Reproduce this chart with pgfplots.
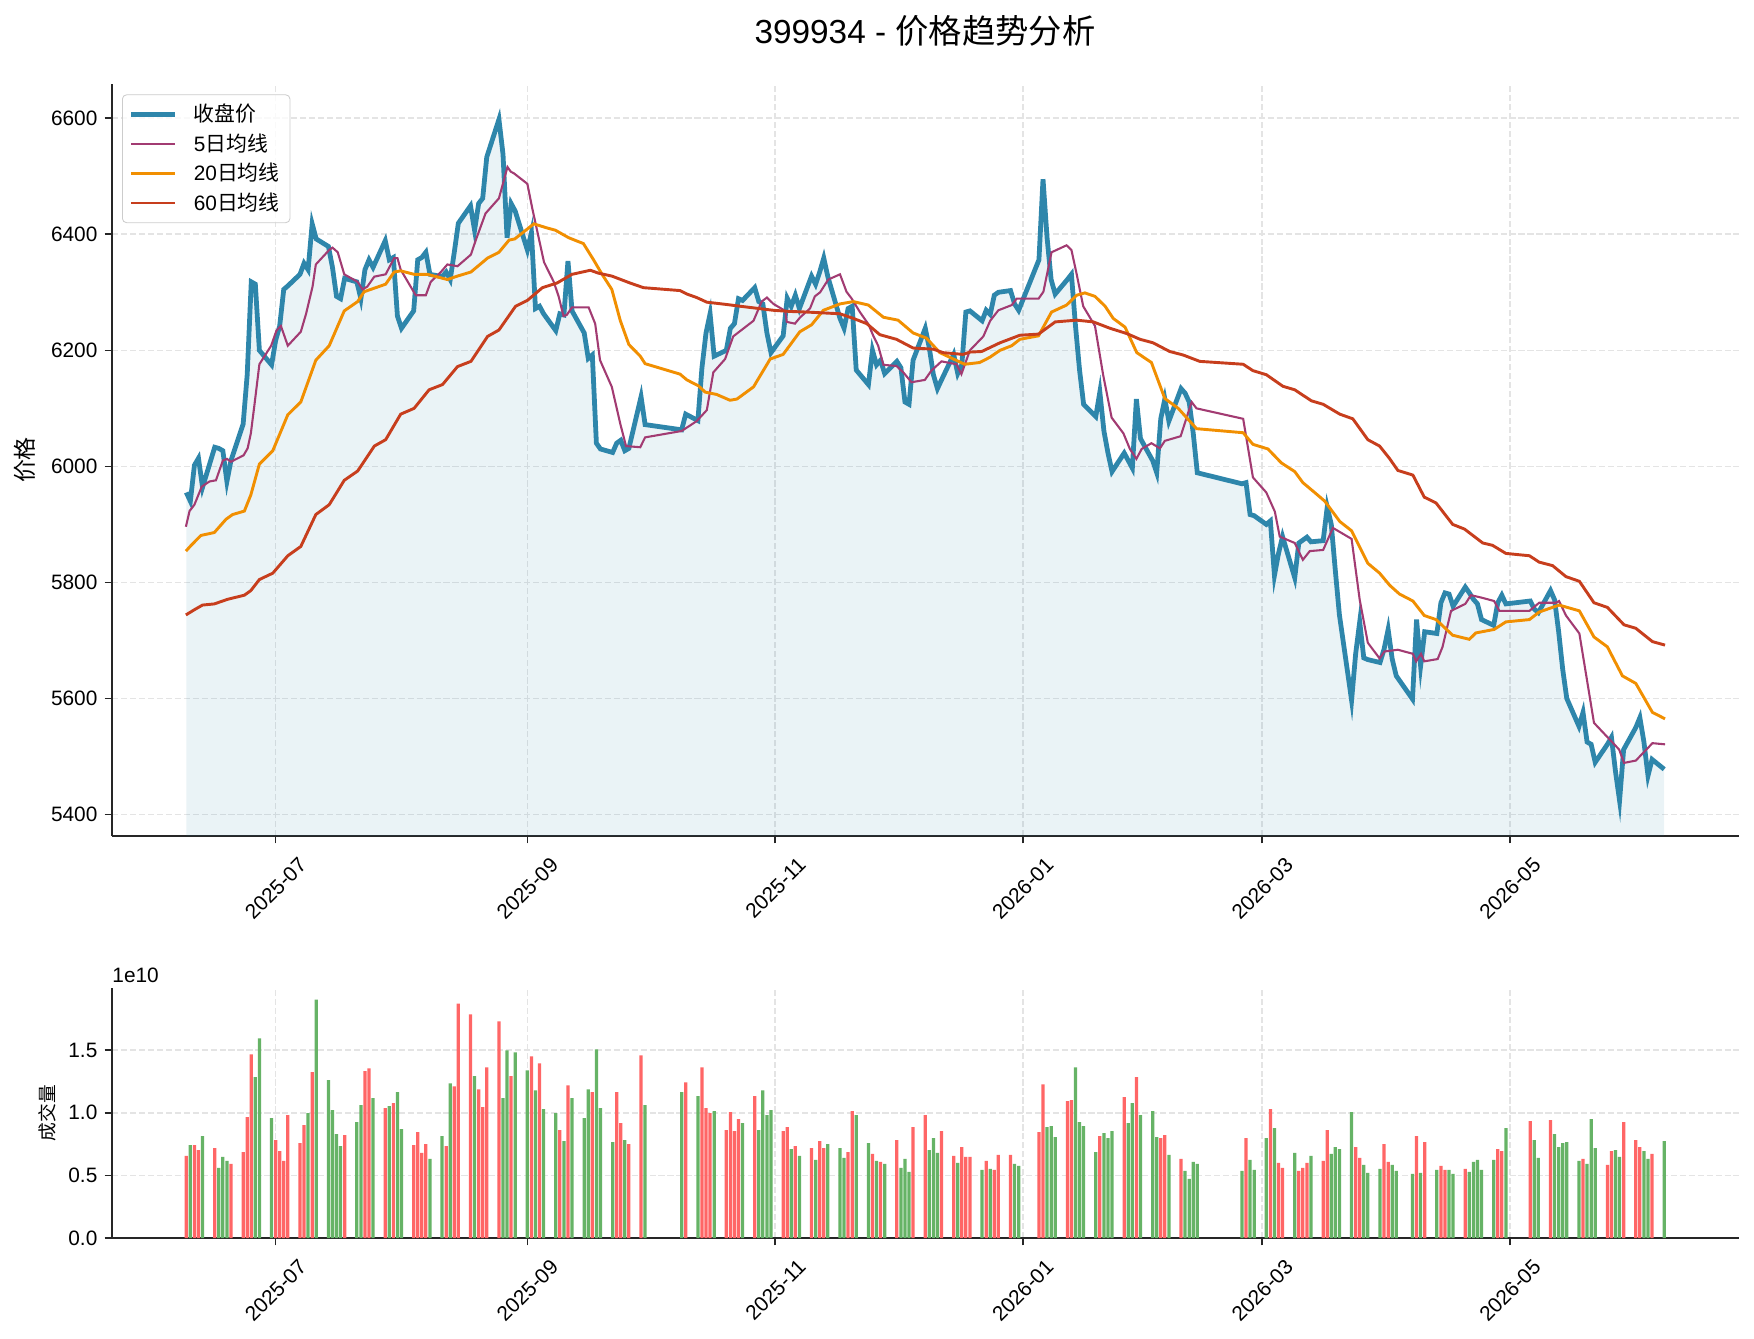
\documentclass[border=0pt]{standalone}
\usepackage{fontspec}
\setmainfont{Liberation Sans}
\newfontfamily\cjk{Noto Sans CJK SC}
\usepackage{pgfplots}
\usepackage{pgfplotstable}
\pgfplotsset{compat=1.18}
\definecolor{closec}{HTML}{2E86AB}
\definecolor{ma5c}{HTML}{A23B72}
\definecolor{ma20c}{HTML}{F18F01}
\definecolor{ma60c}{HTML}{C73E1D}
\definecolor{upc}{HTML}{FF6666}
\definecolor{downc}{HTML}{66B366}
\definecolor{gridc}{HTML}{E4E4E4}
\definecolor{spinec}{HTML}{262626}

\pgfplotstableread{
x y
-22 5955
-21 5940
-20 6002
-19 6014
-18 5964
-15 6033
-14 6031
-13 6027
-12 5974
-11 6010
-8 6073
-7 6158
-6 6318
-5 6314
-4 6200
-1 6175
0 6217
1 6242
2 6305
3 6311
6 6331
7 6350
8 6339
9 6418
10 6392
13 6379
14 6343
15 6293
16 6289
17 6324
20 6318
21 6289
22 6339
23 6356
24 6343
27 6389
28 6356
29 6360
30 6259
31 6238
34 6268
35 6356
36 6360
37 6369
38 6331
41 6327
42 6335
43 6322
44 6369
45 6419
48 6449
49 6407
50 6453
51 6462
52 6533
55 6598
56 6538
57 6394
58 6453
59 6440
62 6373
63 6403
64 6272
65 6276
66 6263
69 6234
70 6263
71 6261
72 6354
73 6268
76 6230
77 6186
78 6192
79 6040
80 6030
83 6024
84 6040
85 6045
86 6027
87 6031
90 6120
91 6072
100 6063
101 6090
104 6079
105 6170
106 6230
107 6263
108 6190
111 6200
112 6238
113 6246
114 6289
115 6286
118 6308
119 6284
120 6280
121 6230
122 6196
125 6225
126 6290
127 6276
128 6295
129 6272
132 6328
133 6314
134 6335
135 6359
136 6327
139 6255
140 6238
141 6272
142 6276
143 6166
146 6141
147 6200
148 6175
149 6183
150 6160
153 6181
154 6170
155 6111
156 6107
157 6183
160 6238
161 6204
162 6158
163 6134
164 6149
167 6193
168 6160
169 6175
170 6266
171 6268
174 6251
175 6269
176 6262
177 6295
178 6300
181 6303
182 6280
183 6269
188 6356
189 6495
190 6394
191 6322
192 6297
195 6322
196 6331
197 6242
198 6166
199 6107
202 6086
203 6128
204 6061
205 6023
206 5991
209 6023
210 6010
211 5997
212 6116
213 6048
216 6010
217 5989
218 6082
219 6116
220 6078
223 6134
224 6126
225 6111
226 6057
227 5989
238 5970
239 5972
240 5917
241 5915
244 5900
245 5906
246 5812
247 5850
248 5879
251 5808
252 5868
253 5873
254 5878
255 5870
258 5872
259 5930
260 5900
261 5820
262 5744
265 5597
266 5677
267 5732
268 5670
269 5667
272 5662
273 5685
274 5719
275 5668
276 5639
280 5599
281 5736
282 5656
283 5715
286 5712
287 5765
288 5782
289 5780
290 5759
293 5792
294 5782
295 5771
296 5763
297 5736
300 5726
301 5765
302 5778
303 5763
309 5768
310 5754
311 5748
314 5786
315 5770
316 5715
317 5650
318 5600
321 5552
322 5576
323 5525
324 5521
325 5490
328 5521
329 5533
330 5474
331 5424
332 5512
335 5550
336 5567
337 5525
338 5467
339 5495
342 5478
}\closetab

\pgfplotstableread{
x y
-22.1 5896
-21.2 5923
-20 5934
-18.2 5965
-16.3 5974
-14.7 5976
-13 6010
-12 6013
-11 6008
-7.9 6019
-6.9 6031
-6.1 6057
-5.2 6107
-4 6176
-1.1 6208
0.2 6234
1.3 6242
3 6208
6.2 6232
7.5 6263
9.1 6310
9.9 6348
13.2 6373
14 6377
15.3 6369
16.9 6331
20.2 6318
21.4 6305
22.6 6310
24.3 6327
27.1 6331
29.2 6359
30 6359
30.8 6339
34.5 6295
37 6295
38.2 6318
40.7 6335
42.3 6348
44.8 6345
48.1 6365
49.3 6390
51.7 6436
55 6462
57.1 6516
57.9 6508
58.7 6505
62 6487
63.2 6445
66.1 6352
68.5 6318
69.7 6293
70.9 6259
71.7 6261
73 6274
77.1 6274
78.7 6246
79.9 6183
82.8 6137
84.9 6073
86.3 6035
89.8 6033
91 6050
100 6061
103.7 6078
106.2 6097
107.8 6162
110.7 6185
112.7 6224
117.7 6251
119.7 6284
121 6291
122.6 6280
125.5 6268
125.9 6249
127.9 6246
129.2 6257
131.6 6272
132.8 6293
134.1 6300
136.1 6322
139 6331
140.6 6301
141.9 6289
143.9 6266
146 6245
147.2 6225
148.4 6208
149.7 6175
152.9 6173
154.6 6162
156.6 6145
159.9 6149
161.5 6165
164 6181
167.7 6176
168.9 6159
171 6200
174.3 6224
176 6251
178 6269
181.3 6278
182.5 6289
187.9 6289
189.1 6301
191.1 6369
194.8 6381
196 6373
197.3 6331
198.9 6276
201.8 6242
203.8 6158
205.9 6084
208.8 6057
210.4 6030
212 6013
213.3 6030
215.7 6040
217.8 6031
219 6044
222.9 6052
225.6 6111
226.8 6100
238.3 6082
240.7 5981
244 5955
246.1 5922
247.3 5879
251 5868
253 5839
254.7 5854
258 5856
260.4 5894
265 5875
267 5770
269 5696
271.9 5669
273.1 5681
276.4 5684
280.1 5677
280.9 5664
282.1 5677
282.9 5664
286.2 5668
287.4 5689
289.5 5751
293 5763
294.4 5778
296.9 5774
300.1 5768
301.4 5751
308.8 5751
311.2 5765
315.3 5765
316.1 5768
317.8 5743
321.1 5712
324.7 5558
330.9 5512
332.1 5489
335 5493
339.1 5523
342.2 5521
}\matab

\pgfplotstableread{
x y
-22.1 5854
-20.8 5864
-18.4 5881
-15.1 5886
-12.2 5909
-10.6 5917
-7.7 5923
-6.1 5951
-4 6004
-0.7 6027
3 6089
6.2 6111
9.9 6183
13.2 6208
16.9 6268
20.2 6284
21.8 6301
27.1 6314
29.2 6335
30.8 6337
34.1 6331
37.4 6331
42.3 6322
44.8 6328
48.1 6335
52.2 6359
55 6369
57.5 6390
58.9 6392
63.6 6418
66.8 6411
68.9 6407
72.2 6394
75.8 6384
78.3 6356
80.4 6331
82.8 6305
84.9 6251
87 6210
89.8 6190
91 6177
99.6 6159
101.3 6149
104.1 6139
105.8 6128
108.6 6124
111.9 6114
113.6 6116
117.7 6137
121.8 6185
125 6193
129.1 6232
132 6244
134.9 6269
139 6280
142.3 6284
146 6278
149.7 6257
153.3 6252
157 6230
160.3 6221
163.6 6196
169.7 6176
173.4 6179
175.9 6188
178.4 6200
181.3 6208
183.3 6219
187.9 6225
191.1 6266
194.8 6278
197.3 6295
199.3 6299
201.8 6293
204.3 6276
206.3 6255
209.2 6240
212.1 6196
215.7 6179
219 6117
222.3 6100
226.8 6065
238.3 6058
240.7 6038
244.4 6030
247.7 6006
251 5991
253 5972
255.9 5955
258.4 5940
262.1 5905
265 5889
269 5833
271.9 5816
274.4 5795
276.8 5780
280.1 5768
282.9 5743
285.8 5736
289.9 5709
294 5702
295.6 5713
300.1 5719
303 5732
308.8 5736
311.2 5749
316.1 5761
321.1 5751
324.7 5706
328 5689
331.7 5639
335 5626
339.1 5576
342.2 5565
}\mbtab

\pgfplotstableread{
x y
-22.1 5744
-20 5753
-18 5761
-15.1 5763
-11.8 5771
-7.7 5778
-6.1 5786
-4 5805
-0.7 5816
3 5846
6.2 5862
9.9 5917
13.2 5934
16.9 5976
20.2 5992
24.3 6035
27.1 6046
30.8 6090
34.1 6100
37.8 6132
41.1 6141
44.8 6172
48.1 6181
52.2 6224
55 6235
59.1 6276
62 6286
65.7 6308
69.3 6316
73 6331
77.5 6338
79.5 6333
82.8 6328
87.3 6316
90.6 6308
99.6 6303
101.3 6297
103.7 6291
106.2 6283
111.1 6279
114.4 6276
122.6 6269
126.7 6267
130.8 6266
139 6263
142.3 6255
145.6 6246
148.8 6227
152.9 6219
157 6204
162 6202
164.4 6196
169.3 6193
171 6197
173.9 6198
178.4 6213
183.3 6226
187.9 6228
192 6249
197.3 6252
201.4 6249
205.5 6238
209.6 6229
212.9 6219
216.1 6213
220.2 6198
223.5 6192
227.6 6181
238.3 6176
240.7 6165
244 6158
248.1 6138
251 6132
255.1 6113
258 6107
262.1 6090
265.3 6082
269 6046
271.9 6035
274.3 6014
276.4 5993
280.1 5985
282.9 5947
285.8 5937
289.9 5900
292.8 5892
297.3 5868
299.7 5864
303 5850
308.8 5846
311.2 5835
314.5 5829
317.8 5810
321.1 5802
324.7 5765
328 5757
332.1 5727
335 5721
339.1 5698
342.2 5692
}\mctab

\pgfplotstableread{
x y
-22 0.655
-20 0.742
-19 0.702
-15 0.718
-11 0.591
-8 0.686
-7 0.965
-6 1.466
0 0.782
1 0.694
2 0.615
3 0.981
6 0.758
7 0.901
9 1.323
17 0.822
22 1.331
23 1.354
27 1.036
29 1.076
34 0.742
35 0.845
36 0.679
37 0.750
42 0.734
44 1.211
45 1.871
48 1.784
50 1.187
51 1.044
52 1.362
55 1.728
58 1.291
63 1.450
65 1.394
70 0.861
72 1.219
78 1.164
84 1.164
85 0.917
87 0.750
90 1.458
101 1.243
105 1.362
106 1.036
107 0.997
111 0.861
112 1.005
113 0.853
114 0.949
118 1.132
125 0.853
126 0.885
128 0.734
132 0.718
134 0.774
135 0.718
141 0.686
142 1.012
147 0.671
149 0.607
153 0.782
157 0.885
160 0.981
164 0.853
167 0.655
169 0.726
170 0.647
171 0.647
175 0.615
177 0.543
178 0.663
181 0.663
188 0.845
189 1.227
195 1.092
196 1.100
203 0.814
209 1.124
212 1.283
218 0.798
219 0.822
223 0.631
239 0.798
245 1.028
247 0.599
248 0.559
252 0.535
253 0.559
254 0.599
258 0.615
259 0.861
266 0.726
267 0.639
273 0.750
274 0.607
281 0.814
283 0.766
287 0.575
288 0.543
293 0.551
301 0.710
302 0.694
309 0.933
314 0.941
322 0.631
328 0.583
329 0.694
332 0.925
335 0.782
336 0.726
339 0.671
}\uptab

\pgfplotstableread{
x y
-21 0.742
-18 0.814
-14 0.559
-13 0.647
-12 0.615
-5 1.283
-4 1.593
-1 0.957
8 0.997
10 1.903
13 1.259
14 1.020
15 0.830
16 0.734
20 0.925
21 1.060
24 1.116
28 1.052
30 1.164
31 0.869
38 0.631
41 0.814
43 1.235
49 1.291
56 1.116
57 1.497
59 1.482
62 1.338
64 1.179
66 1.028
69 0.997
71 0.774
73 1.116
76 0.957
77 1.187
79 1.505
80 1.036
83 0.766
86 0.782
91 1.060
100 1.164
104 1.132
108 1.012
115 0.917
119 0.861
120 1.179
121 0.981
122 1.020
127 0.710
129 0.655
133 0.623
136 0.750
139 0.718
140 0.639
143 0.981
146 0.758
148 0.615
150 0.591
154 0.559
155 0.631
156 0.527
161 0.702
162 0.798
163 0.679
168 0.599
174 0.543
176 0.551
182 0.591
183 0.575
190 0.885
191 0.893
192 0.806
197 1.362
198 0.925
199 0.893
202 0.686
204 0.838
205 0.798
206 0.853
210 0.917
211 1.076
213 0.981
216 1.012
217 0.806
220 0.663
224 0.535
225 0.472
226 0.607
227 0.591
238 0.535
240 0.623
241 0.543
244 0.798
246 0.877
251 0.679
255 0.655
260 0.671
261 0.726
262 0.710
265 1.005
268 0.583
269 0.519
272 0.551
275 0.583
276 0.535
280 0.512
282 0.519
286 0.543
289 0.543
290 0.512
294 0.527
295 0.607
296 0.623
297 0.543
300 0.623
303 0.877
310 0.782
311 0.639
315 0.830
316 0.726
317 0.758
318 0.766
321 0.615
323 0.591
324 0.949
325 0.718
330 0.702
331 0.647
337 0.694
338 0.631
342 0.774
}\downtab

\pgfplotsset{
  basestyle/.style={
    scale only axis, width=780.72pt,
    xmin=-40.3, xmax=360.3,
    axis x line*=bottom, axis y line*=left,
    axis line style={line width=0.9pt, spinec},
    tick align=outside, major tick length=3.5pt,
    tick style={line width=0.8pt, spinec},
    xtick={0,62,123,184,243,304},
    xticklabels={2025-07,2025-09,2025-11,2026-01,2026-03,2026-05},
    grid=major,
    major grid style={line width=0.8pt, gridc, dash pattern=on 3pt off 1.3pt},
    tick label style={font=\fontsize{10}{12}\selectfont},
    x tick label style={xshift=10.5pt, yshift=-6pt, rotate=45, anchor=north east, inner sep=0pt},
    /pgf/number format/assume math mode=true,
    /pgf/number format/set thousands separator={},
  }
}

\begin{document}
\begin{tikzpicture}
\useasboundingbox (0,0) rectangle (841.92pt,-642.24pt);
\begin{axis}[basestyle,
  at={(53.76pt,-40.32pt)}, anchor=north west,
  height=360.96pt,
  ymin=5363, ymax=6659,
  ytick={5400,5600,5800,6000,6200,6400,6600},
  legend image code/.code={\draw[#1] (0pt,0pt) -- (21pt,0pt); \path (27pt,0pt);},
  legend cell align=left,
  legend style={at={(0,1)}, anchor=north west, xshift=4.8pt, yshift=-5pt,
    draw=black!20, rounded corners=2pt, fill=white, fill opacity=0.8, text opacity=1,
    font=\fontsize{10}{12}\selectfont, row sep=0.2pt, inner xsep=3pt, inner ysep=2.5pt,
    nodes={inner sep=2pt}},
]
\addplot[draw=none, fill=closec, fill opacity=0.1, forget plot] table {\closetab} \closedcycle;
\addplot[closec, line width=2.3pt] table {\closetab};
\addlegendentry{{\cjk 收盘价}}
\addplot[ma5c, line width=1.0pt] table {\matab};
\addlegendentry{5{\cjk 日均线}}
\addplot[ma20c, line width=1.4pt] table {\mbtab};
\addlegendentry{20{\cjk 日均线}}
\addplot[ma60c, line width=1.4pt] table {\mctab};
\addlegendentry{60{\cjk 日均线}}
\end{axis}

\begin{axis}[basestyle,
  at={(53.76pt,-474.24pt)}, anchor=north west,
  height=120pt,
  ymin=0, ymax=1.995,
  ytick={0,0.5,1,1.5},
  yticklabel style={/pgf/number format/.cd, fixed, fixed zerofill, precision=1},
]
\addplot[ybar, bar width=0.8, bar shift=0pt, fill=upc, draw=none] table {\uptab};
\addplot[ybar, bar width=0.8, bar shift=0pt, fill=downc, draw=none] table {\downtab};
\end{axis}

\node[font=\fontsize{16}{19}\selectfont] at (444pt,-14.9pt) {399934 - {\cjk 价格趋势分析}};
\node[rotate=90, font=\fontsize{11}{13}\selectfont\cjk] at (11.8pt,-220.8pt) {价格};
\node[rotate=90, font=\fontsize{9}{11}\selectfont\cjk] at (22.6pt,-534.2pt) {成交量};
\node[anchor=west, inner sep=0pt, font=\fontsize{10}{12}\selectfont] at (53.76pt,-468pt) {1e10};
\end{tikzpicture}
\end{document}
